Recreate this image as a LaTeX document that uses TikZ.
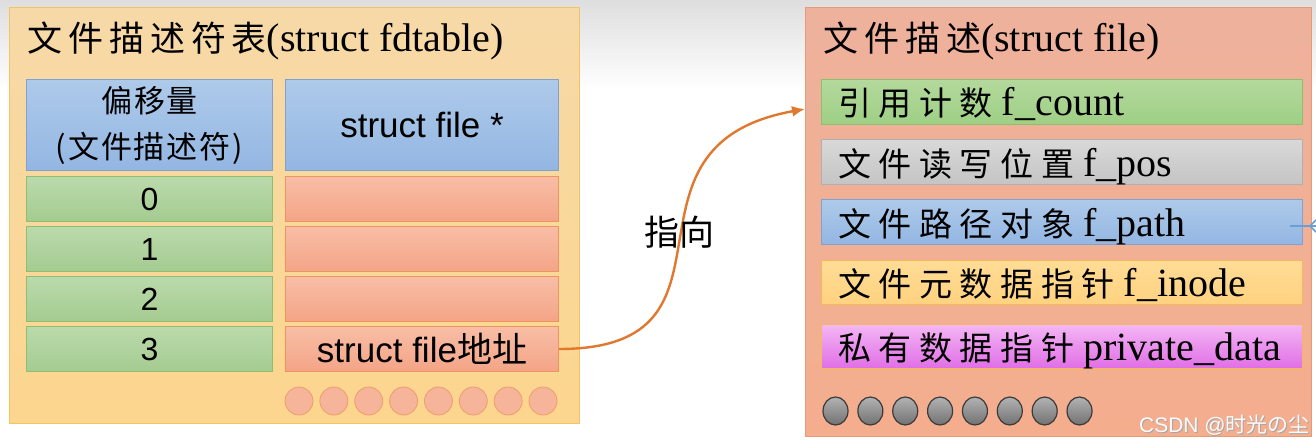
\documentclass[tikz,border=0pt]{standalone}
\usepackage{fontspec}
\setmainfont{Liberation Serif}
\setsansfont{Liberation Sans}
\newfontfamily\cjk{Noto Sans CJK SC}
\newfontfamily\cjksp[LetterSpace=23]{Noto Sans CJK SC}
\newfontfamily\cjkti[LetterSpace=17]{Noto Sans CJK SC}
\newfontfamily\cjkhd[LetterSpace=6]{Noto Sans CJK SC}
\usetikzlibrary{arrows.meta,shapes.geometric}
\definecolor{lcfill}{HTML}{FCD68E}
\definecolor{lcfilltop}{HTML}{F7D9A8}
\definecolor{lcdraw}{HTML}{F3C465}
\definecolor{hbtop}{HTML}{AECAEA}
\definecolor{hbbot}{HTML}{93B6E2}
\definecolor{hbdraw}{HTML}{7EA3D2}
\definecolor{grtop}{HTML}{BBDAAC}
\definecolor{grbot}{HTML}{A4CB90}
\definecolor{grdraw}{HTML}{8CBF72}
\definecolor{satop}{HTML}{F8BEA6}
\definecolor{sabot}{HTML}{F4A486}
\definecolor{sadraw}{HTML}{EE955F}
\definecolor{rcfill}{HTML}{F4AE8E}
\definecolor{rcfilltop}{HTML}{EEB19C}
\definecolor{rcdraw}{HTML}{E59A78}
\definecolor{rgtop}{HTML}{B3D99C}
\definecolor{rgbot}{HTML}{9ECF85}
\definecolor{rgdraw}{HTML}{8CC16C}
\definecolor{gytop}{HTML}{D9D9D9}
\definecolor{gybot}{HTML}{C4C4C4}
\definecolor{gydraw}{HTML}{B0B0B0}
\definecolor{yetop}{HTML}{FFDC96}
\definecolor{yebot}{HTML}{FFD27F}
\definecolor{yedraw}{HTML}{F3B85A}
\definecolor{mgtop}{HTML}{F4B6F4}
\definecolor{mgbot}{HTML}{E06EE6}
\definecolor{arrowc}{HTML}{E0782F}
\definecolor{dotfill}{HTML}{7E7E7E}
\definecolor{dotdraw}{HTML}{3A3A3A}
\definecolor{ldot}{HTML}{F6B49A}
\definecolor{ldotdraw}{HTML}{EE9C6C}
\definecolor{bluefrag}{HTML}{6A9FD6}
\begin{document}
\begin{tikzpicture}[x=1pt,y=-1pt,
  box/.style={draw, line width=1pt, inner sep=0pt, anchor=north west},
  hdr/.style={box, top color=hbtop, bottom color=hbbot, draw=hbdraw},
  idx/.style={box, top color=grtop, bottom color=grbot, draw=grdraw,
     font=\sffamily\fontsize{32}{36}\selectfont},
  ptr/.style={box, top color=satop, bottom color=sabot, draw=sadraw,
     font=\sffamily\fontsize{35}{38}\selectfont},
  fld/.style={box, minimum width=481pt, minimum height=45pt},
  ftxt/.style={anchor=base west, inner sep=0pt, font=\fontsize{40}{44}\selectfont},
  ttl/.style={anchor=base west, inner sep=0pt, font=\fontsize{40}{44}\selectfont},
  ldotst/.style={circle, draw=ldotdraw, fill=ldot, line width=0.8pt, minimum size=28pt, inner sep=0pt},
  gdotst/.style={ellipse, draw=dotdraw, top color=gray!60, bottom color=dotfill!90!black, line width=1.2pt, minimum width=25pt, minimum height=28pt, inner sep=0pt},
  link/.style={draw=arrowc, line width=2.4pt, -{Latex[length=13pt,width=11pt]}}
]
\useasboundingbox (0,0) rectangle (1316,447);
\fill[white] (0,0) rectangle (1316,447);
\shade[top color=black!13, bottom color=white] (0,0) rectangle (1316,90);

% ---------- left container ----------
\node[box, top color=lcfilltop, bottom color=lcfill, draw=lcdraw, minimum width=570pt, minimum height=416pt] (lc) at (9,7) {};
\node[ttl] (lt) at (27,51) {{\cjkti\fontsize{35}{40}\selectfont 文件描述符表}(struct fdtable)};

\node[hdr, minimum width=246pt, minimum height=91pt, align=center,
      font=\cjkhd\fontsize{31}{46}\selectfont] (h1) at (26,79)
  {偏移量\\(文件描述符)};
\node[hdr, minimum width=273pt, minimum height=91pt, font=\sffamily\fontsize{35}{38}\selectfont] (h2) at (285,79) {struct file *};

\node[idx, minimum width=246pt, minimum height=45pt] (i0) at (26,176) {0};
\node[idx, minimum width=246pt, minimum height=45pt] (i1) at (26,226) {1};
\node[idx, minimum width=246pt, minimum height=45pt] (i2) at (26,276) {2};
\node[idx, minimum width=246pt, minimum height=45pt] (i3) at (26,326) {3};

\node[ptr, minimum width=273pt, minimum height=45pt] (p0) at (285,176) {};
\node[ptr, minimum width=273pt, minimum height=45pt] (p1) at (285,226) {};
\node[ptr, minimum width=273pt, minimum height=45pt] (p2) at (285,276) {};
\node[ptr, minimum width=273pt, minimum height=45pt] (p3) at (285,326) {struct file{\cjk 地址}};

\foreach \i in {0,...,7} {
  \node[ldotst] (ld\i) at (299+34.86*\i,401) {};
}

% ---------- right container ----------
\node[box, top color=rcfilltop, bottom color=rcfill, draw=rcdraw, minimum width=506pt, minimum height=429pt] (rc) at (805,7) {};
\node[ttl] (rt) at (823,51) {{\cjkti\fontsize{35}{40}\selectfont 文件描述}(struct file)};

\node[fld, top color=rgtop, bottom color=rgbot, draw=rgdraw] (f1) at (821,79) {};
\node[fld, top color=gytop, bottom color=gybot, draw=gydraw] (f2) at (821,139) {};
\node[fld, top color=hbtop, bottom color=hbbot, draw=hbdraw] (f3) at (821,199) {};
\node[fld, top color=yetop, bottom color=yebot, draw=yedraw, minimum height=44pt] (f4) at (821,260) {};
\node[fld, top color=mgtop, bottom color=mgbot, draw=yedraw, minimum height=44pt] (f5) at (821,324) {};

\node[ftxt] (t1) at (838,115) {{\cjksp\fontsize{33}{38}\selectfont 引用计数}\hspace{9pt}f\_count};
\node[ftxt] (t2) at (838,176) {{\cjksp\fontsize{33}{38}\selectfont 文件读写位置}\hspace{9pt}f\_pos};
\node[ftxt] (t3) at (838,236) {{\cjksp\fontsize{33}{38}\selectfont 文件路径对象}\hspace{9pt}f\_path};
\node[ftxt] (t4) at (838,296) {{\cjksp\fontsize{33}{38}\selectfont 文件元数据指针}\hspace{9pt}f\_inode};
\node[ftxt] (t5) at (838,360) {{\cjksp\fontsize{33}{38}\selectfont 私有数据指针}\hspace{9pt}private\_data};

\foreach \i in {0,...,7} {
  \node[gdotst] (gd\i) at (835.5+34.86*\i,411) {};
}

% ---------- connector ----------
\coordinate (tip) at (805,109);
\draw[link] (p3.east) .. controls (760,349) and (600,146) .. (tip);
\node[font=\cjk\fontsize{35}{38}\selectfont, inner sep=0pt] (lbl) at (679,232) {指向};

% partial connector at the right edge
\coordinate (fa) at (1290,226);
\coordinate (fb) at (1316,226);
\draw[bluefrag, line width=1.5pt] (fa) -- (fb);
\draw[bluefrag, line width=1.5pt] (1316,220) -- (1310,226) -- (1316,232);

% watermark
\node[anchor=base east, inner sep=0pt, text=gray!70, font=\sffamily\fontsize{21}{24}\selectfont] (wm0) at (1311,433) {CSDN @{\cjk 时光の尘}};
\node[anchor=base east, inner sep=0pt, text=white!96!gray, font=\sffamily\fontsize{21}{24}\selectfont] (wm) at (1310,432) {CSDN @{\cjk 时光の尘}};
\end{tikzpicture}
\end{document}
